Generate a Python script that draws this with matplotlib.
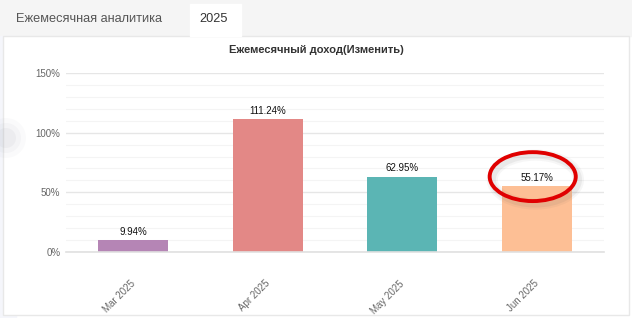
import matplotlib.pyplot as plt
import matplotlib.transforms as mtransforms
from matplotlib.patches import Rectangle, Ellipse
from matplotlib.ticker import MultipleLocator, FuncFormatter

# data
months = ['Mar 2025', 'Apr 2025', 'May 2025', 'Jun 2025']
values = [9.94, 111.24, 62.95, 55.17]
colors = ['#b585b5', '#e38886', '#5bb5b4', '#fdbf95']
highlight = 'Jun 2025'

W, H = 632, 318
plt.rcParams['font.family'] = ['Liberation Sans', 'DejaVu Sans']

fig = plt.figure(figsize=(W / 100, H / 100), dpi=100)
fig.patch.set_facecolor('white')

def px(x0, y0, w, h):
    # pixel box (top-left origin) -> figure fraction
    return (x0 / W, 1 - (y0 + h) / H, w / W, h / H)

# tab bar
fig.patches.append(Rectangle(px(0, 0, W, 36)[:2], 1, 36 / H, transform=fig.transFigure,
                             color='#f5f5f5', zorder=0))
b = px(190, 4, 51, 32)
fig.patches.append(Rectangle(b[:2], b[2], b[3], transform=fig.transFigure,
                             color='white', zorder=1))
fig.text(16 / W, 1 - 19 / H, 'Ежемесячная аналитика', fontsize=9.2, color='#555555',
         va='center', ha='left')
fig.text(214 / W, 1 - 19 / H, '2025', fontsize=9.2, color='#333333',
         va='center', ha='center')

# panel border and faint left stripe
b = px(0, 36, 16, 282)
fig.patches.append(Rectangle(b[:2], b[2], b[3], transform=fig.transFigure,
                             color='#f5f6fb', zorder=0))
for r, a in [(20, 0.04), (15, 0.05), (10, 0.07)]:
    fig.patches.append(Ellipse((6 / W, 1 - 138 / H), 2 * r / W, 2 * r / H,
                               transform=fig.transFigure, color='#8a8fa0', alpha=a, lw=0))
b = px(3, 36, 626, 279)
fig.patches.append(Rectangle(b[:2], b[2], b[3], transform=fig.transFigure,
                             facecolor='white', edgecolor='#e8e8e8', lw=1, zorder=0.5))

fig.text(316 / W, 1 - 50 / H, 'Ежемесячный доход(Изменить)', fontsize=8, fontweight='bold',
         color='#333333', ha='center', va='center')

ax = fig.add_axes([66 / W, (H - 252) / H, (604 - 66) / W, (252 - 73) / H])
ax.set_zorder(2)
ax.set_facecolor('none')
x = list(range(len(months)))
ax.bar(x, values, width=0.52, color=colors, zorder=2)
for xi, v in zip(x, values):
    ax.text(xi, v + 3, f'{v:.2f}%', ha='center', va='bottom', fontsize=7, color='#111111')

ax.set_xlim(-0.5, len(months) - 0.5)
ax.set_ylim(0, 150)
ax.yaxis.set_major_locator(MultipleLocator(50))
ax.yaxis.set_minor_locator(MultipleLocator(10))
ax.yaxis.set_major_formatter(FuncFormatter(lambda v, p: f'{v:.0f}%'))
ax.grid(axis='y', which='major', color='#e6e6e6', lw=1, zorder=0)
ax.grid(axis='y', which='minor', color='#f4f4f4', lw=0.8, zorder=0)
for s in ['top', 'right', 'left']:
    ax.spines[s].set_visible(False)
ax.spines['bottom'].set_color('#e0e0e0')
ax.spines['bottom'].set_linewidth(1.2)
ax.tick_params(axis='both', which='both', length=0, labelsize=7, labelcolor='#666666')
ax.tick_params(axis='y', pad=4)
ax.set_xticks(x)
ax.set_xticklabels(months, rotation=45, ha='right', rotation_mode='anchor')
ax.tick_params(axis='x', pad=19)
shift = mtransforms.ScaledTranslation(-3 / 100, 0, fig.dpi_scale_trans)
for lab in ax.get_xticklabels():
    lab.set_transform(lab.get_transform() + shift)

# red ellipse highlight around the chosen label
i = months.index(highlight)
cx, cy = i - 0.03, values[i] + 8
for lw, a in [(8, 0.05), (5, 0.08)]:
    ax.add_patch(Ellipse((cx + 0.02, cy - 2.5), 0.64, 41, fill=False, edgecolor='#555555',
                         lw=lw, alpha=a, zorder=3, clip_on=False))
ax.add_patch(Ellipse((cx, cy), 0.64, 41, fill=False, edgecolor='#e00000', lw=2.8,
                     zorder=4, clip_on=False))

fig.savefig('out.png', dpi=100)
